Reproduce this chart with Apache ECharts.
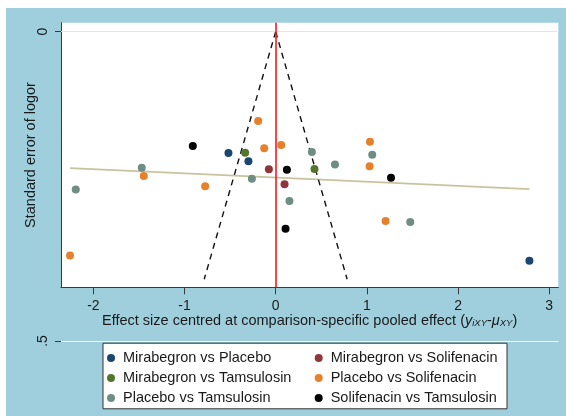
<!DOCTYPE html>
<html>
<head>
<meta charset="utf-8">
<script src="https://cdn.jsdelivr.net/npm/echarts@6/dist/echarts.min.js"></script>
<style>
html,body{margin:0;padding:0;background:#fff;}
#wrap{position:relative;width:566px;height:416px;overflow:hidden;background:#fff;}
#bg{position:absolute;left:6px;top:8px;right:0;bottom:0;background:#9fcfdd;}
#chart{position:absolute;left:0;top:0;width:566px;height:416px;}
</style>
</head>
<body>
<div id="wrap"><div id="bg"></div><div id="chart"></div></div>
<script>
// ---- data (x: effect size centred, y: standard error) ----
const xTicks = [-2, -1, 0, 1, 2, 3];
const yTicks = [0, 0.5];
const yTickLabels = ['0', '.5'];

const seriesNames = [
  'Mirabegron vs Placebo', 'Mirabegron vs Solifenacin',
  'Mirabegron vs Tamsulosin', 'Placebo vs Solifenacin',
  'Placebo vs Tamsulosin', 'Solifenacin vs Tamsulosin'
];
const mirabegronVsPlacebo = [[-0.518, 0.196], [-0.299, 0.2095], [2.783, 0.370]];
const mirabegronVsSolifenacin = [[-0.075, 0.2224], [0.097, 0.2467]];
const mirabegronVsTamsulosin = [[-0.335, 0.1956], [0.426, 0.222]];
const placeboVsSolifenacin = [[-0.192, 0.1444], [-0.126, 0.1885], [0.060, 0.1832], [1.034, 0.1778], [1.030, 0.2176], [1.205, 0.306], [-1.447, 0.2333], [-0.774, 0.2499], [-2.256, 0.3615]];
const placeboVsTamsulosin = [[-1.469, 0.2199], [-2.193, 0.2548], [-0.261, 0.2376], [0.151, 0.2737], [0.397, 0.1945], [0.650, 0.2144], [1.059, 0.1988], [1.476, 0.3076]];
const solifenacinVsTamsulosin = [[-0.909, 0.1848], [0.123, 0.2231], [0.108, 0.3185], [1.265, 0.236]];

const funnelLeft = [[0, 0], [-0.784, 0.4]];
const funnelRight = [[0, 0], [0.784, 0.4]];
const fitLine = [[-2.256, 0.2203], [2.783, 0.2543]];
const nullEffect = 0;

// ---- chart ----
const FONT = '"Liberation Sans", Arial, sans-serif';
const TXT = '#1a1a1a';
const colors = ['#1a476f', '#90353b', '#55752f', '#e5812a', '#6e8e84', '#000000'];
const groups = [mirabegronVsPlacebo, mirabegronVsSolifenacin, mirabegronVsTamsulosin,
                placeboVsSolifenacin, placeboVsTamsulosin, solifenacinVsTamsulosin];

const chart = echarts.init(document.getElementById('chart'), null, {renderer: 'canvas'});

const scatterSeries = groups.map((d, i) => ({
  name: seriesNames[i], type: 'scatter', data: d,
  xAxisIndex: 0, yAxisIndex: 0,
  symbol: 'circle', symbolSize: 8,
  itemStyle: {color: colors[i], opacity: 1}, z: 5
}));

const legendText = {fontSize: 14.5, lineHeight: 14, color: TXT, fontFamily: FONT, padding: [0, 0, 0, 3]};

const option = {
  animation: false,
  backgroundColor: 'transparent',
  textStyle: {fontFamily: FONT, color: TXT},
  grid: [
    {left: 61, top: 22.7, width: 497.3, height: 264.6, show: true,
     backgroundColor: '#ffffff', borderWidth: 0, containLabel: false},
    {left: 61, top: 31.7, width: 497.3, height: 309.3, show: false, containLabel: false}
  ],
  xAxis: [
    {type: 'value', gridIndex: 0, min: -2.355, max: 3.10,
     axisLine: {show: true, onZero: false, lineStyle: {color: '#3a3a3a', width: 1}},
     axisTick: {show: true, length: 7, inside: false, customValues: xTicks,
                lineStyle: {color: '#3a3a3a'}},
     axisLabel: {show: true, customValues: xTicks, margin: 12, fontSize: 14,
                 color: TXT, fontFamily: FONT},
     splitLine: {show: false},
     name: 'Effect size centred at comparison-specific pooled effect ({it|y}{sub|iXY}-{it|μ}{sub|XY})',
     nameLocation: 'middle', nameGap: 26, nameMoveOverlap: false,
     nameTextStyle: {fontSize: 14.5, color: TXT, fontFamily: FONT,
       rich: {
         it: {fontSize: 14.5, fontStyle: 'italic', color: TXT, fontFamily: FONT},
         sub: {fontSize: 9.5, fontStyle: 'italic', color: TXT, fontFamily: FONT,
               verticalAlign: 'bottom', padding: [5, 0, 0, 0]}
       }}
    },
    {type: 'value', gridIndex: 1, min: -2.355, max: 3.10, show: false,
     axisLine: {show: false, onZero: false}, axisTick: {show: false}, axisLabel: {show: false},
     splitLine: {show: false}}
  ],
  yAxis: [
    {type: 'value', gridIndex: 0, inverse: true, min: -0.0145, max: 0.413,
     axisLine: {show: true, onZero: false, lineStyle: {color: '#3a3a3a', width: 1}},
     axisTick: {show: false}, axisLabel: {show: false}, splitLine: {show: false},
     name: 'Standard error of logor', nameLocation: 'middle', nameRotate: 90, nameGap: 23,
     nameMoveOverlap: false,
     nameTextStyle: {fontSize: 14.5, color: TXT, fontFamily: FONT}
    },
    {type: 'value', gridIndex: 1, inverse: true, min: 0, max: 0.5,
     axisLine: {show: false, onZero: false},
     axisTick: {show: true, length: 6, customValues: yTicks, lineStyle: {color: '#3a3a3a'}},
     axisLabel: {show: true, customValues: yTicks, rotate: 90, margin: 11, fontSize: 14,
                 color: TXT, fontFamily: FONT,
                 formatter: v => yTickLabels[yTicks.indexOf(v)] ?? ''},
     splitLine: {show: true, lineStyle: {color: '#ffffff', width: 1}}
    }
  ],
  legend: [
    {show: true, orient: 'vertical', left: 107, top: 350.5, padding: 0,
     itemWidth: 8, itemHeight: 8, itemGap: 5, icon: 'circle',
     data: [seriesNames[0], seriesNames[2], seriesNames[4]],
     textStyle: legendText},
    {show: true, orient: 'vertical', left: 314.7, top: 350.5, padding: 0,
     itemWidth: 8, itemHeight: 8, itemGap: 5, icon: 'circle',
     data: [seriesNames[1], seriesNames[3], seriesNames[5]],
     textStyle: legendText}
  ],
  graphic: [
    {type: 'rect', left: 102.5, top: 342.7, z: -1,
     shape: {width: 404, height: 65.6},
     style: {fill: '#ffffff', stroke: '#333333', lineWidth: 1}}
  ],
  series: [
    {type: 'line', xAxisIndex: 0, yAxisIndex: 0, data: [], silent: true,
     markLine: {silent: true, symbol: 'none', label: {show: false},
       data: [
         {yAxis: 0, lineStyle: {color: '#dbe8ed', width: 1, type: 'solid', opacity: 1}},
         {xAxis: nullEffect, lineStyle: {color: '#ee1c23', width: 1.6, type: 'solid', opacity: 1}}
       ]}, z: 2},
    {type: 'line', xAxisIndex: 0, yAxisIndex: 0, data: fitLine, symbol: 'none',
     lineStyle: {color: '#c9c39d', width: 1.8}, z: 3, silent: true},
    {type: 'line', xAxisIndex: 0, yAxisIndex: 0, data: funnelLeft, symbol: 'none',
     lineStyle: {color: '#111', width: 1.4, type: [6, 5]}, z: 3, silent: true},
    {type: 'line', xAxisIndex: 0, yAxisIndex: 0, data: funnelRight, symbol: 'none',
     lineStyle: {color: '#111', width: 1.4, type: [6, 5]}, z: 3, silent: true},
    ...scatterSeries
  ]
};
chart.setOption(option);
</script>
</body>
</html>
